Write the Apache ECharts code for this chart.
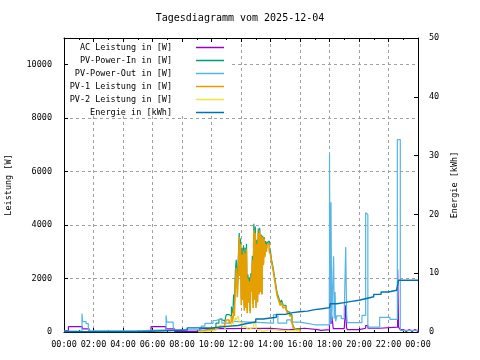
<!DOCTYPE html>
<html><head><meta charset="utf-8">
<script src="https://cdn.jsdelivr.net/npm/echarts@6/dist/echarts.min.js"></script>
<style>html,body{margin:0;padding:0;background:#fff}#c{width:480px;height:360px}</style>
</head><body><div id="c"></div>
<script>
// ---- data (x = hour of day) ----
const titleText = 'Tagesdiagramm vom 2025-12-04';
const seriesNames = ['AC Leistung in [W]','PV-Power-In in [W]','PV-Power-Out in [W]','PV-1 Leistung in [W]','PV-2 Leistung in [W]','Energie in [kWh]'];
const seriesColors = ['#9400D3','#009E73','#56B4E9','#E69F00','#F0E442','#0072B2'];

const pvTimes = [9.1,9.4,9.7,10.0,10.3,10.5,10.7,10.9,11.0,11.2,11.35,11.45,11.5,11.55,11.62,11.68,11.75,11.8,11.88,11.92,11.97,12.02,12.07,12.12,12.17,12.22,12.27,12.32,12.37,12.42,12.47,12.52,12.57,12.62,12.67,12.72,12.77,12.82,12.87,12.92,12.97,13.02,13.07,13.12,13.17,13.22,13.27,13.32,13.37,13.42,13.47,13.52,13.57,13.62,13.67,13.72,13.77,13.85,13.92,14.0,14.07,14.15,14.25,14.35,14.45,14.55,14.65,14.75,14.85,14.95,15.05,15.15,15.3,15.45,15.55,15.65,15.8,16.0];
const pv1 = [20,60,80,100,180,220,200,300,450,350,600,400,900,600,1800,2400,1300,1900,3550,2100,3300,1000,2900,1200,3050,800,2950,900,3100,700,2000,1100,1900,700,2050,1500,2700,900,3800,1200,3700,900,3300,1100,3700,1400,3800,1500,3600,1400,3550,2500,3500,2800,3300,3000,3250,3300,3000,2900,2600,2400,2050,1700,1370,1200,1000,1100,900,950,850,700,600,350,150,80,80,0];
const pv2 = [10,30,40,60,150,240,200,120,200,240,350,300,500,420,540,450,380,600,370,300,350,250,320,200,250,170,220,150,200,120,180,100,150,90,160,120,200,150,320,250,300,120,170,60,120,50,100,30,50,20,40,30,50,40,60,90,90,90,90,90,90,80,80,70,70,60,60,60,60,50,50,50,50,50,40,40,40,0];
const pvIn = [30,90,120,160,330,470,400,420,650,590,950,700,1400,1000,2300,2700,1700,2500,3700,2400,3500,1250,3150,1400,3250,950,3150,1050,3300,820,2150,1200,2050,790,2200,1600,2850,1050,4050,1450,3950,1000,3450,1150,3870,1450,3900,1530,3650,1420,3600,2530,3550,2850,3400,3100,3350,3400,3100,3000,2700,2480,2150,1800,1450,1300,1100,1200,1000,1000,900,750,650,400,200,120,120,0];

const acPower = [[0,50],[0.3,200],[1.25,120],[1.7,20],[2.0,80],[2.1,20],[2.5,80],[2.6,20],[3.0,80],[3.1,20],[3.5,80],[3.6,20],[4.0,80],[4.1,20],[4.5,80],[4.6,20],[5.0,80],[5.1,20],[5.5,80],[5.6,20],[5.9,200],[6.9,120],[7.5,20],[7.8,90],[7.9,20],[8.3,90],[8.4,20],[8.8,90],[8.9,20],[9.2,130],[10.0,130],[11.0,140],[14.0,140],[14.1,80],[15.2,140],[16.3,90],[17.2,60],[17.4,90],[18.0,2070],[18.05,700],[18.1,300],[18.15,600],[18.2,430],[18.25,130],[19.0,180],[19.1,1000],[19.15,180],[19.2,90],[20.0,140],[20.45,240],[20.6,140],[21.4,180],[22.62,2340],[22.68,180],[22.8,90],[23.0,20],[23.2,90],[23.4,20],[23.6,90],[23.8,20],[24,90]];

const pvOut = [[0,30],[1.22,690],[1.26,390],[1.5,310],[1.65,120],[1.72,40],[4.95,80],[6.92,620],[6.97,370],[7.4,240],[7.45,80],[9.1,80],[9.3,220],[9.55,320],[10.1,430],[10.3,500],[10.7,330],[11.3,400],[11.5,330],[14.2,650],[14.5,330],[15.1,450],[15.4,370],[16.0,330],[16.4,270],[17.0,300],[17.1,270],[18.0,6650],[18.05,300],[18.1,4850],[18.15,400],[18.28,2830],[18.32,500],[18.38,1500],[18.42,400],[18.5,600],[18.8,500],[19.0,750],[19.1,3180],[19.16,700],[19.2,350],[20.2,620],[20.45,4460],[20.52,4400],[20.6,180],[21.4,550],[22.1,470],[22.6,7200],[22.8,60],[24,60]];

const energy = [[0,0.05],[4.95,0.35],[8.35,0.7],[10.0,0.8],[10.5,0.95],[11.0,1.1],[11.8,1.4],[12.3,1.7],[13.0,2.2],[13.5,2.5],[14.4,3.0],[15.0,3.3],[15.5,3.45],[16.0,3.55],[16.5,3.8],[17.0,3.95],[17.5,4.15],[18.0,4.4],[18.05,4.8],[18.5,5.0],[19.0,5.2],[19.5,5.4],[20.0,5.7],[20.5,6.0],[21.0,6.4],[21.5,6.8],[22.0,7.1],[22.55,7.4],[22.68,8.8],[24,8.85]];

// ---- chart ----
const FONT = 'DejaVu Sans Mono';
const txt = {fontFamily: FONT, fontSize: 8.5, color: '#000'};
const gridLine = {show: true, lineStyle: {color: '#a0a0a0', type: [3,3], width: 1}};
const fmtHour = v => { const h = Math.round(v) % 24; return (h < 10 ? '0' : '') + h + ':00'; };
const lineWidths = [1.2, 1.2, 1.2, 1.6, 1.2, 1.4];

const chart = echarts.init(document.getElementById('c'), null, {renderer: 'canvas'});

const pair = (t, arr) => t.map((x, i) => [x, arr[i]]);
const seriesData = [acPower, pair(pvTimes, pvIn), pvOut, pair(pvTimes, pv1), pair(pvTimes, pv2), energy];

const series = seriesNames.map((n, i) => ({
  name: n, type: 'line', step: 'end', showSymbol: false, symbol: 'none',
  xAxisIndex: 0, yAxisIndex: i === 5 ? 1 : 0,
  data: seriesData[i],
  lineStyle: {color: seriesColors[i], width: lineWidths[i]},
  itemStyle: {color: seriesColors[i]},
  animation: false
}));

const legends = seriesNames.map((n, i) => ({
  data: [n], right: 256, top: 43 + 13 * i, orient: 'horizontal', align: 'right',
  icon: 'rect', itemWidth: 28, itemHeight: 1.5, itemGap: 0, padding: 0,
  selectedMode: false,
  textStyle: Object.assign({}, txt, {padding: [0, 19, 0, 0]})
}));

chart.setOption({
  animation: false,
  backgroundColor: '#fff',
  title: {text: titleText, left: 'center', top: 13, padding: 0,
    textStyle: {fontFamily: FONT, fontSize: 10, fontWeight: 'normal', color: '#000'}},
  legend: legends,
  grid: {left: 64, right: 62, top: 38, bottom: 28, containLabel: false, outerBoundsMode: 'none'},
  graphic: [{type: 'rect', z: 1, silent: true, shape: {x: 69, y: 43, width: 161, height: 73}, style: {fill: '#fff'}}],
  xAxis: [
    {type: 'value', min: 0, max: 24, interval: 2, position: 'bottom',
     axisLine: {show: true, onZero: false, lineStyle: {color: '#000', width: 1}},
     axisTick: {show: true, inside: true, length: 4, lineStyle: {color: '#000'}},
     minorTick: {show: true, splitNumber: 2, length: 2, lineStyle: {color: '#000'}},
     axisLabel: Object.assign({}, txt, {margin: 8, formatter: fmtHour, showMinLabel: true, showMaxLabel: true, hideOverlap: false, alignMinLabel: 'center', alignMaxLabel: 'center'}),
     splitLine: gridLine},
    {type: 'value', min: 0, max: 24, interval: 2, position: 'top',
     axisLine: {show: true, onZero: false, lineStyle: {color: '#000', width: 1}},
     axisTick: {show: true, inside: true, length: 4, lineStyle: {color: '#000'}},
     minorTick: {show: true, splitNumber: 2, length: 2, lineStyle: {color: '#000'}},
     axisLabel: {show: false}, splitLine: {show: false}}
  ],
  yAxis: [
    {type: 'value', min: 0, max: 11000, interval: 2000, position: 'left',
     name: 'Leistung [W]', nameLocation: 'middle', nameGap: 51, nameRotate: 90, nameTextStyle: txt,
     axisLine: {show: true, onZero: false, lineStyle: {color: '#000', width: 1}},
     axisTick: {show: true, inside: true, length: 4, lineStyle: {color: '#000'}},
     axisLabel: Object.assign({}, txt, {margin: 12, showMaxLabel: false, formatter: v => String(v)}),
     splitLine: gridLine},
    {type: 'value', min: 0, max: 50, interval: 10, position: 'right',
     name: 'Energie [kWh]', nameLocation: 'middle', nameGap: 25, nameRotate: 90, nameTextStyle: txt,
     axisLine: {show: true, onZero: false, lineStyle: {color: '#000', width: 1}},
     axisTick: {show: true, inside: true, length: 4, lineStyle: {color: '#000'}},
     axisLabel: Object.assign({}, txt, {margin: 11, formatter: v => String(v)}),
     splitLine: {show: false}}
  ],
  series: series
});
</script>
</body></html>
